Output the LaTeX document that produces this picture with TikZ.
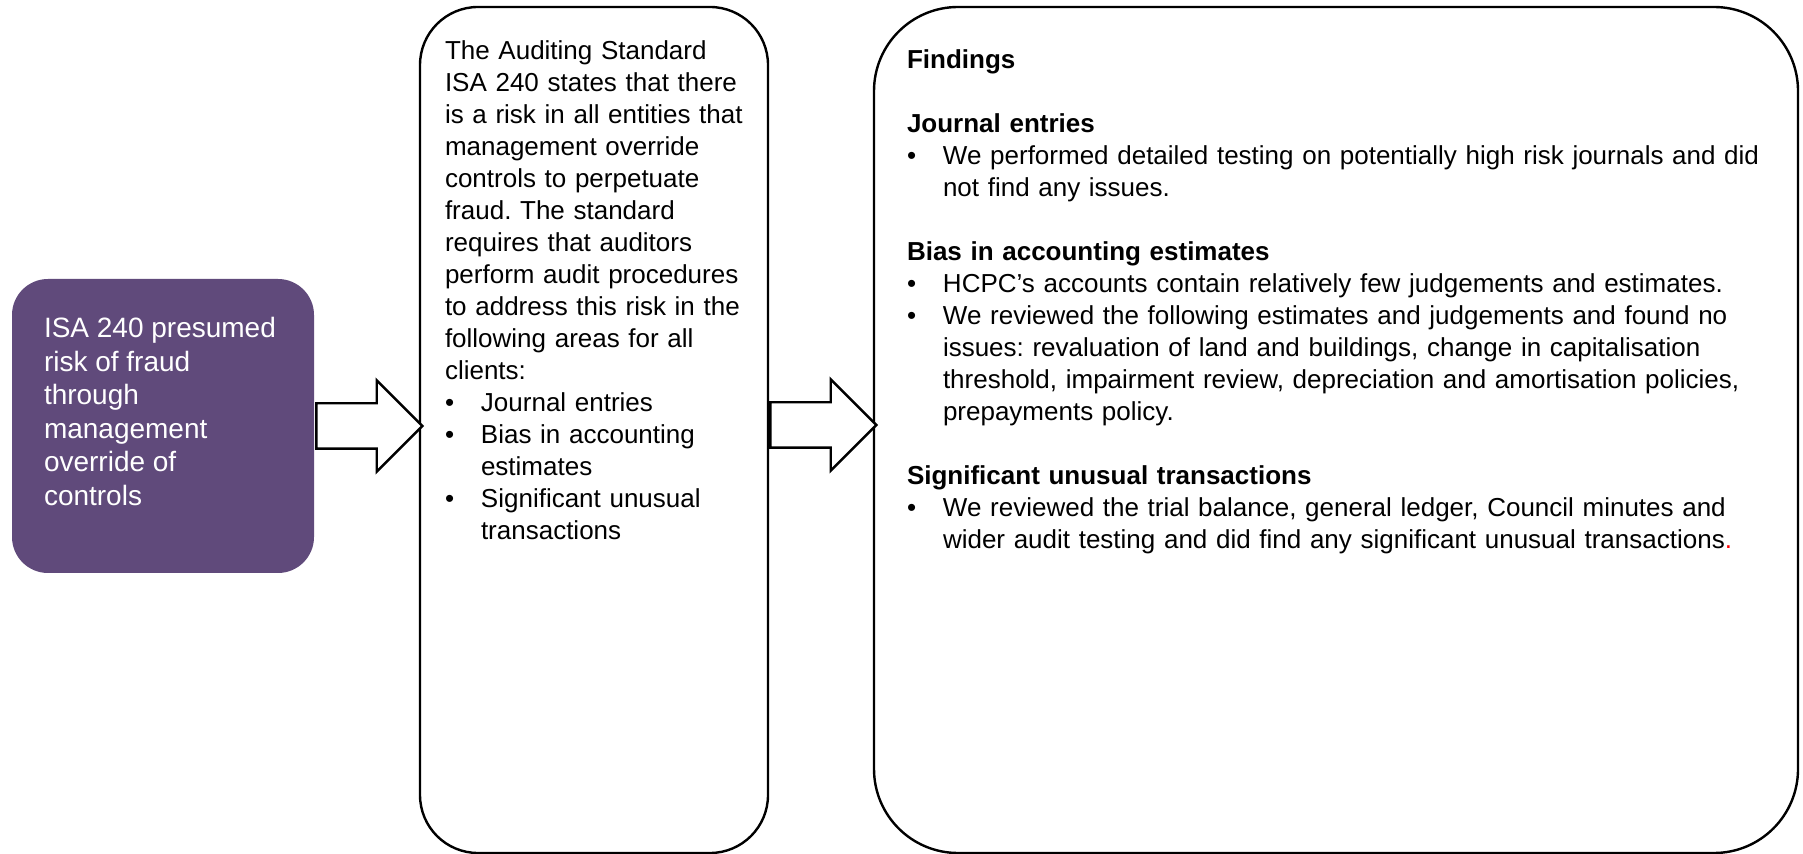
\documentclass[tikz,border=0pt]{standalone}
\usepackage{fontspec}
\setmainfont{Liberation Sans}
\usetikzlibrary{positioning,shapes.arrows}
\definecolor{riskpurple}{RGB}{96,74,123}
\newcommand\blt{\makebox[18pt][l]{\textbullet}}
\newcommand\bsp{\hspace*{18pt}}

\begin{document}
\frenchspacing
\begin{tikzpicture}[x=0.5pt,y=-0.5pt,line width=1.2pt,
        box/.style={draw, rectangle, inner sep=0pt},
        txt/.style={inner sep=0pt, align=left, text width=#1,
                        font=\fontsize{13}{16}\selectfont},
        arr/.style={single arrow, draw, fill=white,
                        inner xsep=0pt, inner ysep=10.75pt,
                        single arrow head extend=11.5pt,
                        minimum height=53pt}]
    \useasboundingbox (0,0) rectangle (1803,854);
    \node[box, draw=none, fill=riskpurple, rounded corners=18pt,
            minimum width=151pt, minimum height=147pt] (risk) at (163,426) {};
    \node[box, rounded corners=29pt,
            minimum width=174pt, minimum height=423pt] (isa) at (594,430) {};
    \node[box, rounded corners=42pt,
            minimum width=462pt, minimum height=423pt] (find) at (1336,430) {};
    \node[arr, anchor=tail] (a1) at (risk.east) {};
    \node[arr, anchor=tail] (a2) at ([yshift=2.5pt]isa.east) {};
    \node[inner sep=0pt, align=left, text=white,
            font=\fontsize{14}{16.75}\selectfont,
            below right=19.25pt and 16pt of risk.north west] (risktxt)
        {ISA 240 presumed\\ risk of fraud\\ through\\ management\\
         override of\\ controls};
    \node[txt=160pt, below right=16.75pt and 12.5pt of isa.north west] (isatxt)
        {The Auditing Standard\\
         ISA 240 states that there\\
         is a risk in all entities that\\
         management override\\
         controls to perpetuate\\
         fraud. The standard\\
         requires that auditors\\
         perform audit procedures\\
         to address this risk in the\\
         following areas for all\\
         clients:\\
         \blt Journal entries\\
         \blt Bias in accounting\\
         \bsp estimates\\
         \blt Significant unusual\\
         \bsp transactions};
    \node[txt=440pt, below right=21.5pt and 16.5pt of find.north west] (findtxt)
        {\textbf{Findings}\\[16pt]
         \textbf{Journal entries}\\
         \blt We performed detailed testing on potentially high risk journals and did\\
         \bsp not find any issues.\\[16pt]
         \textbf{Bias in accounting estimates}\\
         \blt HCPC’s accounts contain relatively few judgements and estimates.\\
         \blt We reviewed the following estimates and judgements and found no\\
         \bsp issues: revaluation of land and buildings, change in capitalisation\\
         \bsp threshold, impairment review, depreciation and amortisation policies,\\
         \bsp prepayments policy.\\[16pt]
         \textbf{Significant unusual transactions}\\
         \blt We reviewed the trial balance, general ledger, Council minutes and\\
         \bsp wider audit testing and did find any significant unusual transactions\textcolor{red}{.}};
\end{tikzpicture}
\end{document}
